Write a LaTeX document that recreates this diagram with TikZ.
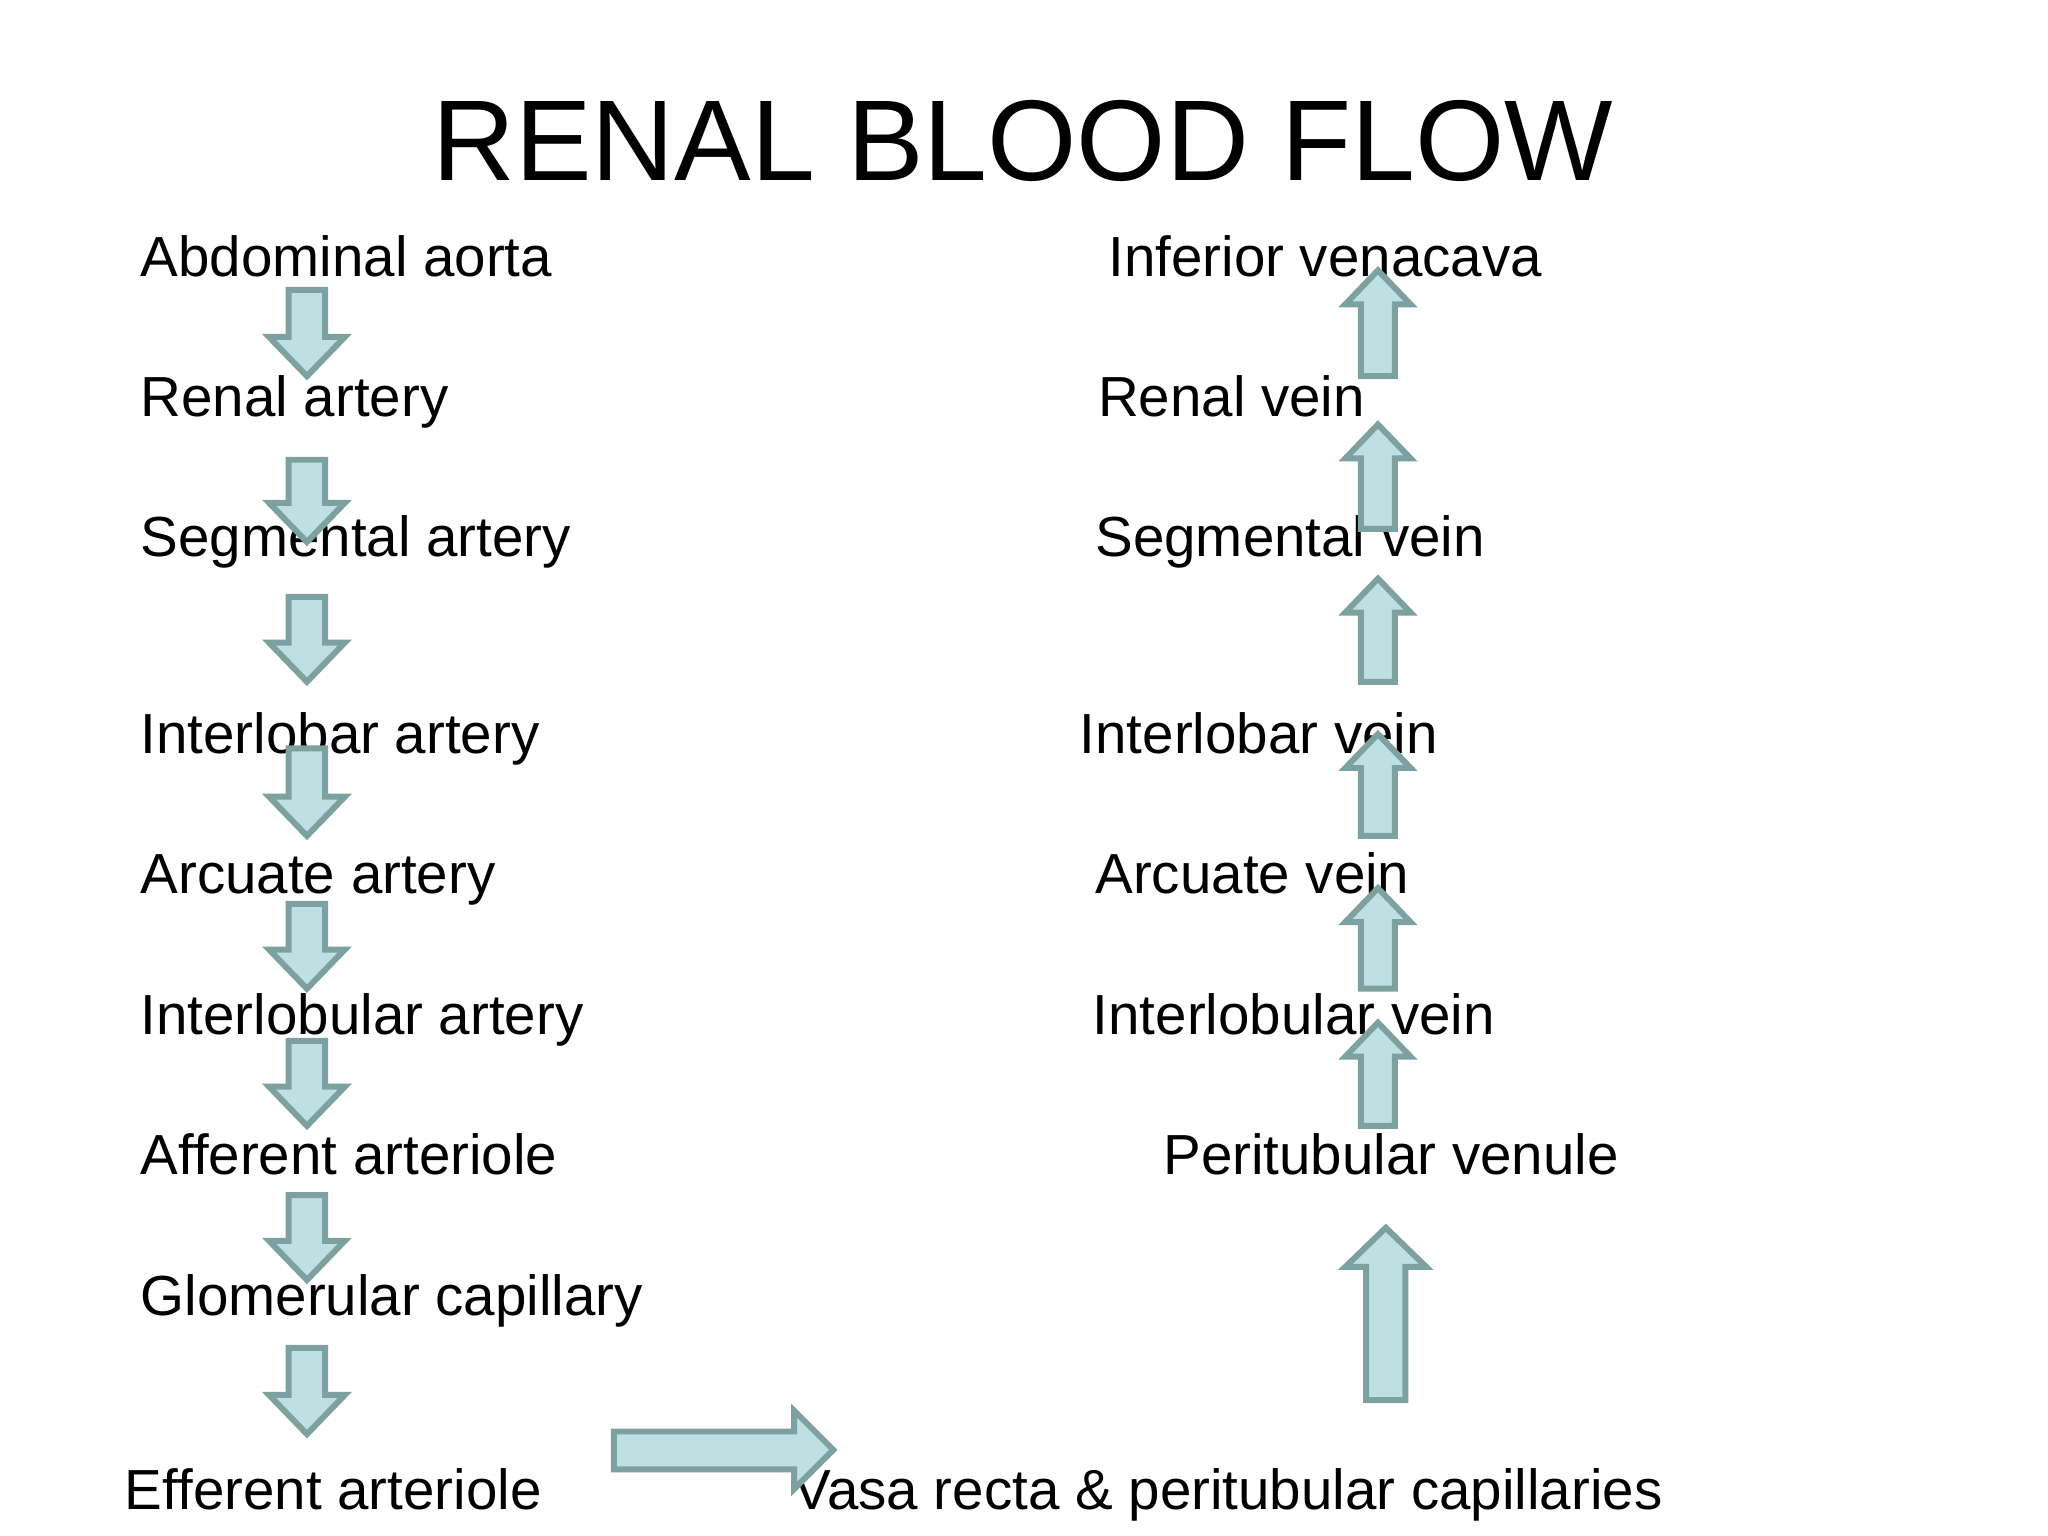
\documentclass[tikz,border=0pt]{standalone}
\usepackage{fontspec}
\setmainfont{Liberation Sans}
\begin{document}
\begin{tikzpicture}[x=0.01cm,y=-0.01cm,
  lbl/.style={anchor=base west,inner sep=0,font=\fontsize{12.3}{14}\selectfont},
  blk/.style={fill=cyan!25!gray!10!white,fill={rgb,255:red,190;green,224;blue,226},draw={rgb,255:red,125;green,160;blue,160},line width=1.3pt,line join=miter}]
\useasboundingbox (0,0) rectangle (1568,1176);
\node[anchor=base,inner sep=0,font=\fontsize{25}{30}\selectfont] (title) at (783,138) {RENAL BLOOD FLOW};
% left column
\foreach \n/\t/\x/\y in {a1/Abdominal aorta/107/212, a2/Renal artery/107/319, a3/Segmental artery/107/426, a4/Interlobar artery/107/577, a5/Arcuate artery/107/684, a6/Interlobular artery/107/792, a7/Afferent arteriole/107/899, a8/Glomerular capillary/107/1007, a9/Efferent arteriole/95/1156}
  \node[lbl] (\n) at (\x,\y) {\t};
\foreach \n/\t/\x/\y in {v1/Inferior venacava/848/212, v2/Renal vein/840/319, v3/Segmental vein/838/426, v4/Interlobar vein/826/577, v5/Arcuate vein/838/684, v6/Interlobular vein/836/792, v7/Peritubular venule/890/899, v8/Vasa recta \& peritubular capillaries/607/1156}
  \node[lbl] (\n) at (\x,\y) {\t};
% down arrows
\foreach \t/\b in {222/288,352/415,457/522,573/640,692/757,797/862,915/980,1032/1098}
  \draw[blk] (221,\t) -- (249,\t) -- (249,\b-30) -- (264,\b-30) -- (235,\b) -- (206,\b-30) -- (221,\b-30) -- cycle;
% up arrows
\foreach \t/\b in {207/288,325/405,443/522,562/640,680/757,783/862}
  \draw[blk] (1042,\b) -- (1068,\b) -- (1068,\t+26) -- (1080,\t+26) -- (1055,\t) -- (1030,\t+26) -- (1042,\t+26) -- cycle;
% big up arrow
\draw[blk] (1046,1072) -- (1076,1072) -- (1076,970) -- (1092,970) -- (1061,940) -- (1030,970) -- (1046,970) -- cycle;
% right arrow
\draw[blk] (470,1096) -- (608,1096) -- (608,1080) -- (638,1110) -- (608,1140) -- (608,1125) -- (470,1125) -- cycle;
\end{tikzpicture}
\end{document}
